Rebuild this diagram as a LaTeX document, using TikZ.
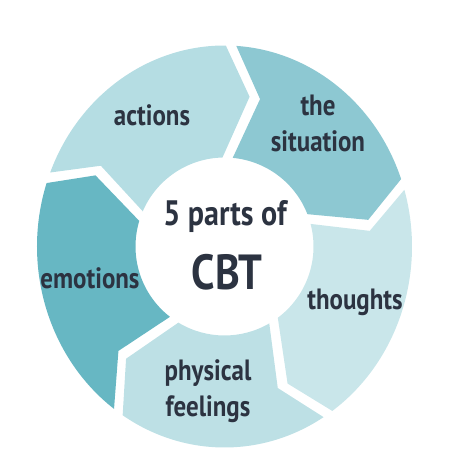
\documentclass[tikz,border=0pt]{standalone}
\usepackage{fontspec}
\setmainfont{PT Sans}[FakeStretch=0.85]
\definecolor{cAcciones}{HTML}{B5DDE3}
\definecolor{cSituacion}{HTML}{8DC8D2}
\definecolor{cPensamientos}{HTML}{C9E6EA}
\definecolor{cFisicas}{HTML}{BDE0E5}
\definecolor{cEmociones}{HTML}{67B7C3}
\definecolor{tinta}{HTML}{2C3341}
% segmento: angulo de cola, angulo de punta, color
\newcommand{\segmento}[3]{%
  \fill[#3] ({#1-1.6}:187.5 and 201)
    arc[start angle=#1-1.6, end angle=#2+1.6, x radius=187.5, y radius=201]
    -- ({#2-10+2.1}:146 and 152) -- ({#2+3.3}:89)
    arc[start angle=#2+3.3, end angle=#1-3.3, radius=89]
    -- ({#1-10-2.1}:146 and 152) -- cycle;}
\begin{document}
\begin{tikzpicture}[x=0.75pt, y=0.75pt,
  etiqueta/.style={font=\bfseries\fontsize{22}{27}\selectfont, text=tinta,
    align=center, inner sep=0pt, anchor=base}]
  \useasboundingbox (0,0) rectangle (450,450);
  % Anillo de flechas
  \begin{scope}[shift={(224.5,203.5)}]
    \segmento{88}{18}{cSituacion}
    \segmento{18}{-56.5}{cPensamientos}
    \segmento{-56.5}{-124.5}{cFisicas}
    \segmento{-124.5}{-200}{cEmociones}
    \segmento{160}{88}{cAcciones}
  \end{scope}
  % Textos
  \node[etiqueta] (acciones) at (152,324) {actions};
  \node[etiqueta] (situacion) at (318,298) {the\\situation};
  \node[etiqueta] (pensamientos) at (355,140) {thoughts};
  \node[etiqueta] (fisicas) at (208,33) {physical\\feelings};
  \node[etiqueta] (emociones) at (90,161) {emotions};
  \node[etiqueta, font=\bfseries\fontsize{26.5}{30}\selectfont] (partes) at (225,224) {5 parts of};
  \node[etiqueta, font=\bfseries\fontsize{37}{40}\selectfont] (cbt) at (227,160) {CBT};
\end{tikzpicture}
\end{document}
